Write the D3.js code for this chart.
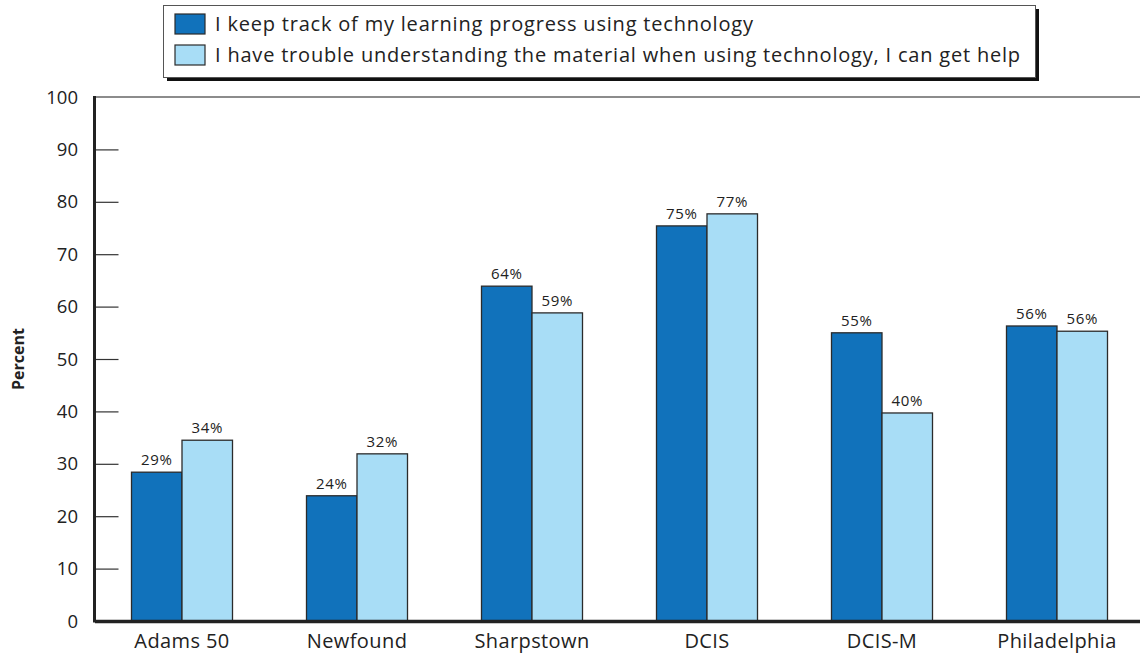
<!DOCTYPE html>
<html>
<head>
<meta charset="utf-8">
<script src="https://cdn.jsdelivr.net/npm/d3@7"></script>
<style>
  body { margin: 0; background: #fff; }
  svg { display: block; font-family: 'Open Sans', sans-serif; }
</style>
</head>
<body>
<svg id="chart" width="1140" height="658"></svg>
<script>
// data
const schools = ['Adams 50', 'Newfound', 'Sharpstown', 'DCIS', 'DCIS-M', 'Philadelphia'];
const seriesNames = [
    'I keep track of my learning progress using technology',
    'I have trouble understanding the material when using technology, I can get help'
];
const trackProgress = [28.4, 23.9, 63.9, 75.4, 55.0, 56.3];
const getHelp = [34.5, 31.9, 58.8, 77.7, 39.7, 55.3];
const trackLabels = ['29%', '24%', '64%', '75%', '55%', '56%'];
const helpLabels = ['34%', '32%', '59%', '77%', '40%', '56%'];
const yTicks = [0, 10, 20, 30, 40, 50, 60, 70, 80, 90, 100];

const colors = ['#1172bb', '#a8ddf6'];

const svg = d3.select('#chart');

// plot area
const plotLeft = 94.5, plotRight = 1144.5, plotTop = 97, plotBottom = 621;

const x = d3.scaleBand()
    .domain(schools)
    .range([plotLeft, plotRight])
    .padding(0);

const y = d3.scaleLinear()
    .domain([0, 100])
    .range([plotBottom, plotTop]);

const barW = 50.5;

// build rows for each bar
const rows = [];
schools.forEach((s, i) => {
    rows.push({ school: s, k: 0, value: trackProgress[i], label: trackLabels[i] });
    rows.push({ school: s, k: 1, value: getHelp[i], label: helpLabels[i] });
});
const barX = d => x(d.school) + x.bandwidth() / 2 - barW + d.k * barW;

// top frame line
svg.append('line')
    .attr('x1', plotLeft).attr('x2', 1140)
    .attr('y1', plotTop).attr('y2', plotTop)
    .attr('stroke', '#666').attr('stroke-width', 1.5);

// y axis with inward ticks
const yAxis = d3.axisRight(y)
    .tickValues(yTicks.filter(t => t > 0 && t < 100))
    .tickSize(24)
    .tickFormat('');
svg.append('g')
    .attr('transform', `translate(${plotLeft},0)`)
    .call(yAxis)
    .call(g => g.select('.domain').remove())
    .call(g => g.selectAll('.tick line').attr('stroke', '#333').attr('stroke-width', 1.2));

// y tick labels
svg.append('g').selectAll('text')
    .data(yTicks)
    .enter().append('text')
    .attr('x', 78)
    .attr('y', d => y(d))
    .attr('dy', '0.36em')
    .attr('text-anchor', 'end')
    .style('font-size', '18.5px')
    .style('fill', '#222')
    .text(d => d);

// bars
svg.append('g').selectAll('rect')
    .data(rows)
    .enter().append('rect')
    .attr('x', barX)
    .attr('y', d => y(d.value))
    .attr('width', barW)
    .attr('height', d => y(0) - y(d.value))
    .attr('fill', d => colors[d.k])
    .attr('stroke', '#2b2b2b')
    .attr('stroke-width', 1.3);

// value labels
svg.append('g').selectAll('text')
    .data(rows)
    .enter().append('text')
    .attr('x', d => barX(d) + barW / 2)
    .attr('y', d => y(d.value) - 7)
    .attr('text-anchor', 'middle')
    .style('font-size', '15px')
    .style('letter-spacing', '0.6px')
    .style('fill', '#222')
    .text(d => d.label);

// axes lines
svg.append('line')
    .attr('x1', plotLeft).attr('x2', plotLeft)
    .attr('y1', plotTop - 1).attr('y2', plotBottom + 1.5)
    .attr('stroke', '#222').attr('stroke-width', 3);

const xAxis = d3.axisBottom(x).tickSize(0).tickPadding(13);
svg.append('g')
    .attr('transform', `translate(0,${plotBottom})`)
    .call(xAxis)
    .call(g => g.select('.domain').attr('stroke', '#222').attr('stroke-width', 3.5))
    .call(g => g.selectAll('.tick text')
        .style('font-size', '20px')
        .style('letter-spacing', '0.4px')
        .style('font-family', "'Open Sans', sans-serif")
        .style('fill', '#222'));

// y axis title
svg.append('text')
    .attr('transform', 'translate(24,359) rotate(-90)')
    .attr('text-anchor', 'middle')
    .style('font-size', '16px')
    .style('font-weight', 'bold')
    .style('fill', '#222')
    .text('Percent');

// legend box with shadow
const legend = svg.append('g');
legend.append('rect')
    .attr('x', 167).attr('y', 9)
    .attr('width', 872).attr('height', 72)
    .attr('fill', '#111');
legend.append('rect')
    .attr('x', 163.5).attr('y', 5.5)
    .attr('width', 872).attr('height', 72)
    .attr('fill', '#fff')
    .attr('stroke', '#555')
    .attr('stroke-width', 1);

legend.selectAll('g.item')
    .data(seriesNames)
    .enter().append('g')
    .attr('class', 'item')
    .attr('transform', (d, i) => `translate(175,${14 + i * 31})`)
    .each(function (d, i) {
        const g = d3.select(this);
        g.append('rect')
            .attr('width', 30).attr('height', 20)
            .attr('fill', colors[i])
            .attr('stroke', '#2b2b2b')
            .attr('stroke-width', 1.2);
        g.append('text')
            .attr('x', 40)
            .attr('y', 10)
            .attr('dy', '0.36em')
            .style('font-size', '20px')
            .style('letter-spacing', '0.8px')
            .style('fill', '#222')
            .text(d);
    });
</script>
</body>
</html>
